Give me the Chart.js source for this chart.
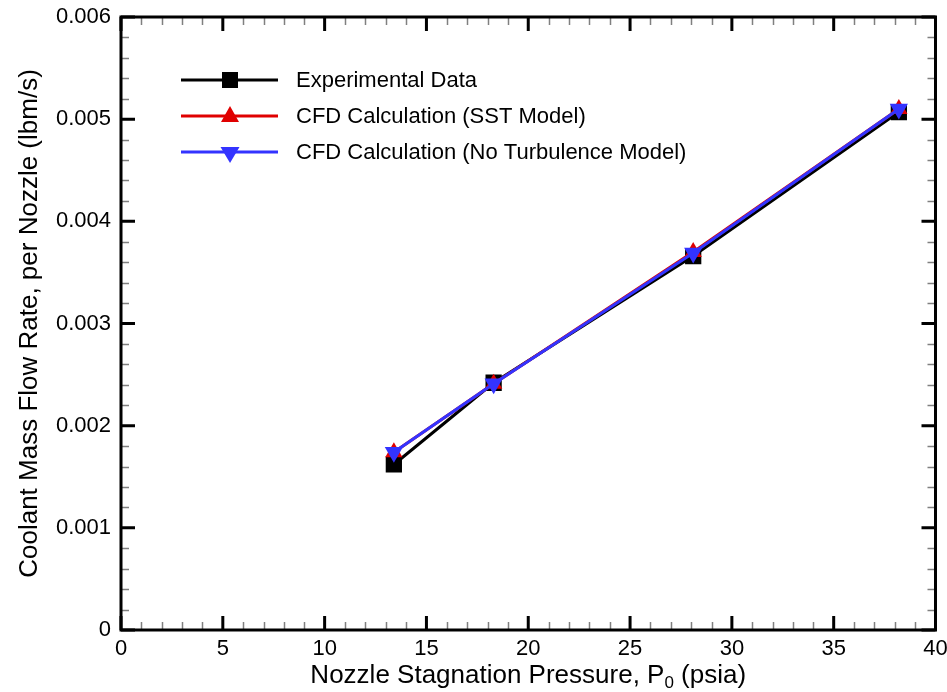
<!DOCTYPE html>
<html>
<head>
<meta charset="utf-8">
<style>
  html, body { margin: 0; padding: 0; background: #ffffff; }
  #wrap { width: 947px; height: 692px; }
</style>
<script src="https://cdn.jsdelivr.net/npm/chart.js@4/dist/chart.umd.min.js"></script>
</head>
<body>
<div id="wrap"><canvas id="c" width="947" height="692"></canvas></div>
<script>
// ---- data ----
const pressure       = [13.4, 18.3, 28.1, 38.2];          // P0 (psia)
const experimental   = [0.00162, 0.00242, 0.00366, 0.00507];
const sstModel       = [0.00174, 0.00241, 0.00370, 0.00510];
const noTurbulence   = [0.00174, 0.00241, 0.00369, 0.00510];
const seriesNames    = ['Experimental Data', 'CFD Calculation (SST Model)', 'CFD Calculation (No Turbulence Model)'];
const xTickValues    = [0, 5, 10, 15, 20, 25, 30, 35, 40];
const yTickValues    = [0, 0.001, 0.002, 0.003, 0.004, 0.005, 0.006];
const xTitle         = ['Nozzle Stagnation Pressure, P', '0', ' (psia)'];
const yTitle         = 'Coolant Mass Flow Rate, per Nozzle (lbm/s)';

const FONT = '"Liberation Sans", Arial, Helvetica, sans-serif';
const colors = ['#000000', '#e00000', '#3333ff'];
const styles = ['rect', 'triangle', 'triangle'];
const rotations = [0, 0, 180];
const radii = [11.5, 10, 10.5];
const values = [experimental, sstModel, noTurbulence];

const datasets = values.map((vals, i) => ({
  label: seriesNames[i],
  data: pressure.map((p, k) => ({ x: p, y: vals[k] })),
  borderColor: colors[i],
  backgroundColor: colors[i],
  borderWidth: 3,
  pointStyle: styles[i],
  rotation: rotations[i],
  pointRadius: radii[i],
  pointBorderWidth: 0,
  pointHoverRadius: radii[i],
  showLine: true,
  tension: 0,
  order: 3 - i
}));

const framePlugin = {
  id: 'frame',
  afterDraw(chart) {
    const ctx = chart.ctx;
    const a = chart.chartArea;
    const xs = chart.scales.x, ys = chart.scales.y;
    ctx.save();
    // minor ticks
    ctx.strokeStyle = '#808080';
    ctx.lineWidth = 1.5;
    ctx.beginPath();
    for (let v = 0; v <= 40; v += 1) {
      if (v % 5 === 0) continue;
      const px = Math.round(xs.getPixelForValue(v)) + 0.5;
      ctx.moveTo(px, a.bottom); ctx.lineTo(px, a.bottom - 8);
      ctx.moveTo(px, a.top); ctx.lineTo(px, a.top + 8);
    }
    for (let k = 0; k <= 30; k++) {
      if (k % 5 === 0) continue;
      const py = Math.round(ys.getPixelForValue(k * 0.0002)) + 0.5;
      ctx.moveTo(a.left, py); ctx.lineTo(a.left + 8, py);
      ctx.moveTo(a.right, py); ctx.lineTo(a.right - 8, py);
    }
    ctx.stroke();
    // major ticks
    ctx.strokeStyle = '#000';
    ctx.lineWidth = 3;
    ctx.beginPath();
    xTickValues.forEach(v => {
      const px = xs.getPixelForValue(v);
      ctx.moveTo(px, a.bottom); ctx.lineTo(px, a.bottom - 14);
      ctx.moveTo(px, a.top); ctx.lineTo(px, a.top + 14);
    });
    yTickValues.forEach(v => {
      const py = ys.getPixelForValue(v);
      ctx.moveTo(a.left, py); ctx.lineTo(a.left + 14, py);
      ctx.moveTo(a.right, py); ctx.lineTo(a.right - 14, py);
    });
    ctx.stroke();
    // frame
    ctx.lineWidth = 3;
    ctx.strokeRect(a.left, a.top, a.right - a.left, a.bottom - a.top);

    // legend
    const rows = [80, 116, 152];
    ctx.font = '22px ' + FONT;
    ctx.textBaseline = 'middle';
    ctx.textAlign = 'left';
    rows.forEach((ry, i) => {
      ctx.strokeStyle = colors[i];
      ctx.fillStyle = colors[i];
      ctx.lineWidth = 3;
      ctx.beginPath();
      ctx.moveTo(181, ry); ctx.lineTo(278, ry);
      ctx.stroke();
      const cx = 230;
      ctx.beginPath();
      if (i === 0) {
        ctx.rect(cx - 8, ry - 8, 16, 16);
      } else if (i === 1) {
        ctx.moveTo(cx, ry - 10); ctx.lineTo(cx + 9, ry + 6); ctx.lineTo(cx - 9, ry + 6); ctx.closePath();
      } else {
        ctx.moveTo(cx, ry + 11); ctx.lineTo(cx + 9.5, ry - 5); ctx.lineTo(cx - 9.5, ry - 5); ctx.closePath();
      }
      ctx.fill();
      ctx.fillStyle = '#000';
      ctx.fillText(seriesNames[i], 296, ry + 1);
    });

    // x title with subscript
    const big = '26px ' + FONT, small = '17px ' + FONT;
    ctx.font = big; const w1 = ctx.measureText(xTitle[0]).width; const w3 = ctx.measureText(xTitle[2]).width;
    ctx.font = small; const w2 = ctx.measureText(xTitle[1]).width;
    const total = w1 + w2 + w3;
    let tx = (a.left + a.right) / 2 - total / 2;
    const ty = 683;
    ctx.textBaseline = 'alphabetic';
    ctx.fillStyle = '#000';
    ctx.font = big; ctx.fillText(xTitle[0], tx, ty); tx += w1;
    ctx.font = small; ctx.fillText(xTitle[1], tx, ty + 5); tx += w2;
    ctx.font = big; ctx.fillText(xTitle[2], tx, ty);

    // y title
    ctx.save();
    ctx.translate(37, (a.top + a.bottom) / 2);
    ctx.rotate(-Math.PI / 2);
    ctx.font = big;
    ctx.textAlign = 'center';
    ctx.textBaseline = 'alphabetic';
    ctx.fillText(yTitle, 0, 0);
    ctx.restore();

    ctx.restore();
  }
};

new Chart(document.getElementById('c'), {
  type: 'scatter',
  data: { datasets },
  options: {
    responsive: false,
    animation: false,
    events: [],
    layout: { padding: { left: 0, right: 11, top: 17, bottom: 0 } },
    plugins: { legend: { display: false }, tooltip: { enabled: false }, title: { display: false } },
    scales: {
      x: {
        type: 'linear', min: 0, max: 40,
        afterFit: s => { s.height = 62; s.paddingLeft = 0; s.paddingRight = 0; },
        afterBuildTicks: s => { s.ticks = xTickValues.map(v => ({ value: v })); },
        grid: { display: false, drawTicks: false },
        border: { display: false },
        ticks: { color: '#000', font: { family: FONT, size: 22 }, padding: 6, maxRotation: 0,
                 callback: v => String(v) }
      },
      y: {
        type: 'linear', min: 0, max: 0.006,
        afterFit: s => { s.width = 121; s.paddingTop = 0; s.paddingBottom = 0; },
        afterBuildTicks: s => { s.ticks = yTickValues.map(v => ({ value: v })); },
        grid: { display: false, drawTicks: false },
        border: { display: false },
        ticks: { color: '#000', font: { family: FONT, size: 22 }, padding: 10,
                 callback: v => (v === 0 ? '0' : Number(v).toFixed(3)) }
      }
    }
  },
  plugins: [framePlugin]
});
</script>
</body>
</html>
